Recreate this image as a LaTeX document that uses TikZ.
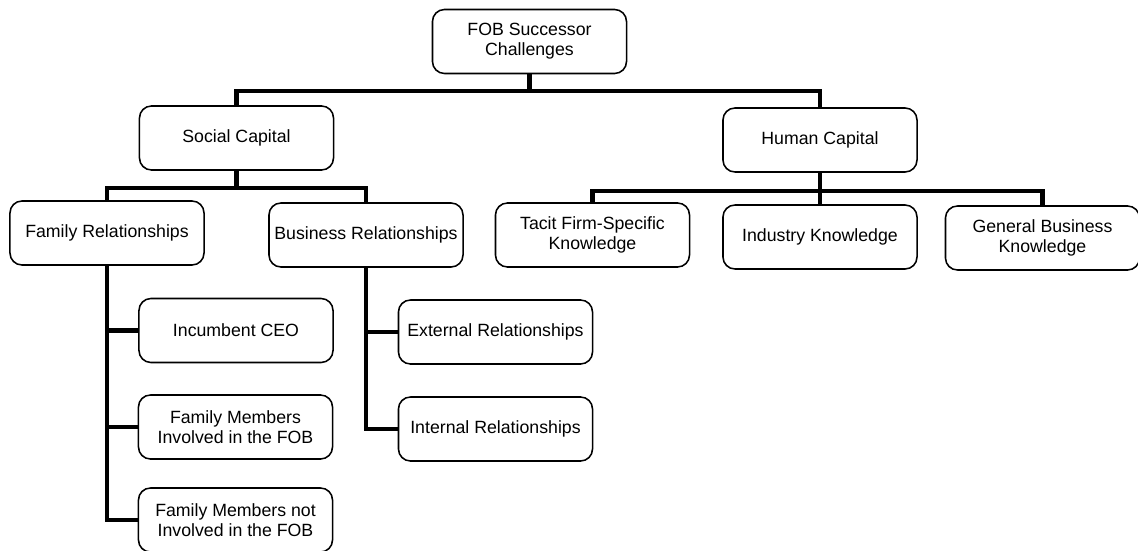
\documentclass[tikz,border=0pt]{standalone}
\usepackage{fontspec}
\setmainfont{Liberation Sans}
\begin{document}
\begin{tikzpicture}[x=0.025cm, y=-0.025cm, line join=miter,
	box/.style={draw, line width=1.1pt, rounded corners=0.3cm, minimum width=4.85cm, minimum height=1.6cm, align=center, inner sep=2pt, font=\fontsize{12.6}{14.2}\selectfont},
	link/.style={line width=3.3pt}]
	\useasboundingbox[fill=white] (0,0) rectangle (1138,551);
	\path (0,91) coordinate (T) (0,188) coordinate (S) (0,191) coordinate (H);
	\node[box] (fob) at (529.5,41.5) {FOB Successor\\Challenges};
	\node[box] (social) at (236.5,138) {Social Capital};
	\node[box] (human) at (820,140) {Human Capital};
	\node[box] (famrel) at (107,233) {Family Relationships};
	\node[box] (busrel) at (366,235) {Business Relationships};
	\node[box] (tacit) at (592.5,235) {Tacit Firm-Specific\\Knowledge};
	\node[box] (industry) at (820,237) {Industry Knowledge};
	\node[box] (general) at (1042.5,238) {General Business\\Knowledge};
	\node[box] (ceo) at (236,330.5) {Incumbent CEO};
	\node[box] (involved) at (235.5,427) {Family Members\\Involved in the FOB};
	\node[box] (notinv) at (235.5,520) {Family Members not\\Involved in the FOB};
	\node[box] (extrel) at (495.5,332) {External Relationships};
	\node[box] (intrel) at (495.5,429) {Internal Relationships};
	% tree links
	\draw[link] (fob.south) -- (fob.south|-T);
	\draw[link] (social.north) -- (social.north|-T) -- (human.north|-T) -- (human.north);
	\draw[link] (famrel.north) -- (famrel.north|-S) -- (busrel.north|-S) -- (busrel.north) (social.south) -- (social.south|-S);
	\draw[link] (tacit.north) -- (tacit.north|-H) -- (general.north|-H) -- (general.north) (human.south) -- (industry.north);
	\foreach \c in {ceo,involved,notinv}{\draw[link] (famrel.south) |- (\c.west);}
	\foreach \c in {extrel,intrel}{\draw[link] (busrel.south) |- (\c.west);}
\end{tikzpicture}
\end{document}
